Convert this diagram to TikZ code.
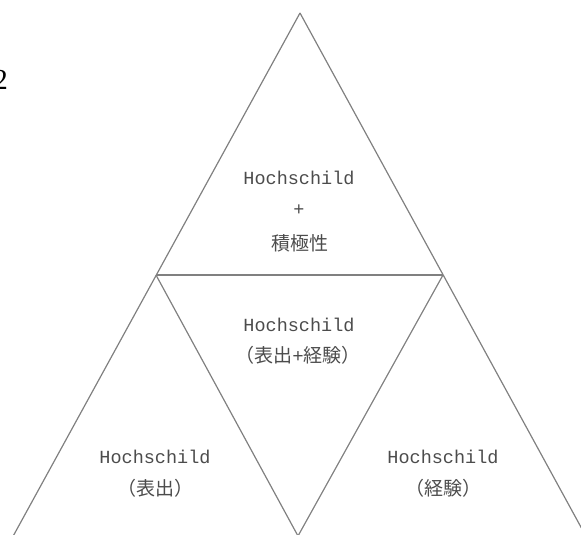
\documentclass[tikz,border=0pt]{standalone}
\usepackage{fontspec}
\setmainfont{Liberation Serif}
\newfontfamily\monof{Liberation Mono}
\newfontfamily\cjk{Noto Sans CJK JP}
\begin{document}
\begin{tikzpicture}[x=1pt,y=-1pt,
  edge/.style={draw=black!50, line width=1.2pt},
  lab/.style={text=black!70, font=\monof\fontsize{18.5}{20}\selectfont, inner sep=0pt},
  cj/.style={text=black!70, font=\cjk\fontsize{19}{21}\selectfont, inner sep=0pt}]
\useasboundingbox (0,0) rectangle (581,535);
\clip (0,0) rectangle (581,535);
\coordinate (A) at (300,13);
\coordinate (L) at (156,275);
\coordinate (R) at (443,275);
\coordinate (B) at (298,536);
\coordinate (BL) at (11,540);
\coordinate (BR) at (588,540);
\draw[edge] (A) -- (BL);
\draw[edge] (A) -- (BR);
\draw[edge] (L) -- (R);
\draw[edge] (L) -- (B) -- (R);
\node[anchor=east, inner sep=0pt, font=\fontsize{29}{30}\selectfont] (num) at (8,80) {2};
\node[lab] (t1) at (299,178) {Hochschild};
\node[lab] (t2) at (299,210) {+};
\node[cj] (t3) at (300,243) {積極性};
\node[lab] (m1) at (299,325) {Hochschild};
\node[cj] (m2) at (298,355) {（表出{\monof +}経験）};
\node[lab] (l1) at (155,457) {Hochschild};
\node[cj] (l2) at (155,488) {（表出）};
\node[lab] (r1) at (443,457) {Hochschild};
\node[cj] (r2) at (443,488) {（経験）};
\end{tikzpicture}
\end{document}
